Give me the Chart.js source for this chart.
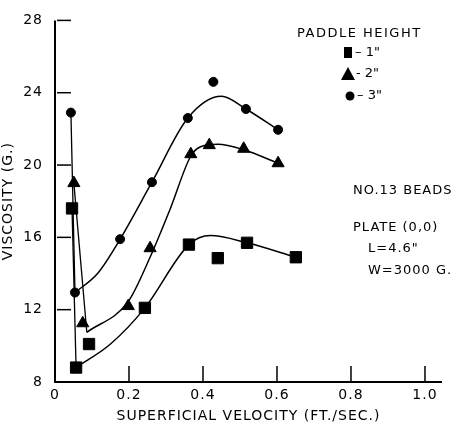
<!DOCTYPE html>
<html>
<head>
<meta charset="utf-8">
<script src="https://cdn.jsdelivr.net/npm/chart.js@4/dist/chart.umd.min.js"></script>
<style>
  html, body { margin: 0; padding: 0; background: #fff; }
  #wrap { width: 459px; height: 425px; }
</style>
</head>
<body>
<div id="wrap"><canvas id="grafico"></canvas></div>
<script>
// ---------- datos ----------
const xTicks = [0, 0.2, 0.4, 0.6, 0.8, 1.0];
const yTicks = [8, 12, 16, 20, 24, 28];

// 1" (cuadrados)
const sqX = [0.046, 0.057, 0.092, 0.243, 0.362, 0.44, 0.519, 0.651];
const sqY = [17.6, 8.8, 10.1, 12.1, 15.6, 14.85, 15.7, 14.9];
// 2" (triangulos)
const triX = [0.051, 0.075, 0.198, 0.257, 0.367, 0.417, 0.51, 0.603];
const triY = [19.0, 11.25, 12.2, 15.4, 20.6, 21.1, 20.9, 20.1];
// 3" (circulos)
const cirX = [0.043, 0.054, 0.176, 0.262, 0.359, 0.428, 0.516, 0.603];
const cirY = [22.9, 12.95, 15.9, 19.05, 22.6, 24.6, 23.1, 21.95];

// curvas ajustadas (trazadas a mano en el original)
const sqCurveX = [0.057, 0.15, 0.243, 0.362, 0.42, 0.519, 0.651];
const sqCurveY = [8.8, 10.1, 12.1, 15.6, 16.1, 15.7, 14.9];
const triCurveX = [0.086, 0.198, 0.257, 0.31, 0.367, 0.392, 0.44, 0.51, 0.603];
const triCurveY = [10.75, 12.45, 14.9, 17.5, 20.5, 21.0, 21.15, 20.85, 20.1];
const cirCurveX = [0.054, 0.115, 0.176, 0.262, 0.359, 0.45, 0.516, 0.603];
const cirCurveY = [12.95, 14.0, 15.9, 19.05, 22.6, 23.8, 23.1, 21.95];

// caida inicial: primer punto -> inicio de la curva
const dropSq = [[sqX[0], sqY[0]], [sqCurveX[0], sqCurveY[0]]];
const dropTri = [[triX[0], triY[0]], [triCurveX[0], triCurveY[0]]];
const dropCir = [[cirX[0], cirY[0]], [cirCurveX[0], cirCurveY[0]]];

const tinta = '#000';
const fuente = 'DejaVu Sans';

const pts = (xs, ys) => xs.map((x, i) => ({ x, y: ys[i] }));
const pares = arr => arr.map(p => ({ x: p[0], y: p[1] }));

function curva(data) {
  return { type: 'line', data, borderColor: tinta, borderWidth: 1.5, pointRadius: 0,
           cubicInterpolationMode: 'monotone', fill: false, order: 2 };
}
function recta(data) {
  return { type: 'line', data, borderColor: tinta, borderWidth: 1.3, pointRadius: 0,
           tension: 0, fill: false, order: 2 };
}
function marcas(data, estilo, r) {
  return { type: 'scatter', data, pointStyle: estilo, pointRadius: r, pointHoverRadius: r,
           backgroundColor: tinta, borderColor: tinta, borderWidth: 1, showLine: false, order: 1 };
}

// ---------- espaciado de letras (rotulado tipo plantilla) ----------
const espaciado = {
  id: 'espaciado',
  beforeDraw(chart) { chart.ctx.letterSpacing = '1px'; },
  afterDraw(chart) { chart.ctx.letterSpacing = '0px'; }
};

// ---------- anotaciones, marcas de eje y leyenda ----------
const anotaciones = {
  id: 'anotaciones',
  afterDraw(chart) {
    const ctx = chart.ctx;
    const xs = chart.scales.x, ys = chart.scales.y;
    const area = chart.chartArea;
    ctx.save();
    ctx.strokeStyle = tinta;
    ctx.fillStyle = tinta;

    // ejes
    ctx.lineWidth = 2;
    ctx.beginPath();
    ctx.moveTo(area.left, area.top);
    ctx.lineTo(area.left, area.bottom);
    ctx.lineTo(area.right, area.bottom);
    ctx.stroke();

    // marcas interiores
    ctx.lineWidth = 1.5;
    yTicks.slice(1).forEach(v => {
      const y = ys.getPixelForValue(v);
      ctx.beginPath();
      ctx.moveTo(area.left + 2, y);
      ctx.lineTo(area.left + 16, y);
      ctx.stroke();
    });
    xTicks.slice(1).forEach(v => {
      const x = xs.getPixelForValue(v);
      ctx.beginPath();
      ctx.moveTo(x, area.bottom);
      ctx.lineTo(x, area.bottom - 16);
      ctx.stroke();
    });

    // leyenda
    ctx.font = '13px "' + fuente + '"';
    ctx.textBaseline = 'middle';
    ctx.textAlign = 'left';
    ctx.letterSpacing = '1.5px';
    ctx.fillText('PADDLE HEIGHT', 297, 34);
    ctx.letterSpacing = '0px';
    ctx.fillRect(344, 47, 8, 11);
    ctx.fillText('\u2013 1"', 355, 53);
    ctx.beginPath();
    ctx.moveTo(348, 67); ctx.lineTo(355, 80); ctx.lineTo(341, 80); ctx.closePath(); ctx.fill();
    ctx.fillText('- 2"', 356, 74);
    ctx.beginPath(); ctx.arc(350, 96, 4.5, 0, Math.PI * 2); ctx.fill();
    ctx.fillText('\u2013 3"', 357, 96);

    // texto de condiciones
    ctx.letterSpacing = '1px';
    ctx.fillText('NO.13 BEADS', 353, 191);
    ctx.fillText('PLATE (0,0)', 353, 228);
    ctx.fillText('L=4.6"', 368, 249);
    ctx.fillText('W=3000 G.', 368, 271);
    ctx.restore();
  }
};

new Chart(document.getElementById('grafico'), {
  data: {
    datasets: [
      recta(pares(dropCir)), recta(pares(dropTri)), recta(pares(dropSq)),
      curva(pts(cirCurveX, cirCurveY)), curva(pts(triCurveX, triCurveY)), curva(pts(sqCurveX, sqCurveY)),
      marcas(pts(sqX, sqY), 'rect', 8),
      marcas(pts(triX, triY), 'triangle', 7),
      marcas(pts(cirX, cirY), 'circle', 4.5)
    ]
  },
  options: {
    responsive: true,
    maintainAspectRatio: false,
    animation: false,
    layout: { padding: { top: 15, right: 17, left: 0, bottom: 0 } },
    plugins: { legend: { display: false }, tooltip: { enabled: false } },
    scales: {
      x: {
        type: 'linear', min: 0, max: 1.046,
        afterBuildTicks: s => { s.ticks = xTicks.map(v => ({ value: v })); },
        afterFit: s => { s.height = 43; },
        border: { display: false },
        grid: { display: false, drawTicks: false },
        ticks: { color: tinta, padding: 5, maxRotation: 0,
                 font: { family: fuente, size: 14 },
                 callback: v => v === 0 ? '0' : v.toFixed(1) },
        title: { display: true, text: 'SUPERFICIAL VELOCITY (FT./SEC.)', color: tinta,
                 font: { family: fuente, size: 14 }, padding: { top: 2, bottom: 0 } }
      },
      y: {
        type: 'linear', min: 8, max: 28,
        afterBuildTicks: s => { s.ticks = yTicks.map(v => ({ value: v })); },
        afterFit: s => { s.width = 55; },
        border: { display: false },
        grid: { display: false, drawTicks: false },
        ticks: { color: tinta, padding: 12, font: { family: fuente, size: 14 } },
        title: { display: true, text: 'VISCOSITY (G.)', color: tinta,
                 font: { family: fuente, size: 14 }, padding: { top: 0, bottom: 2 } }
      }
    }
  },
  plugins: [espaciado, anotaciones]
});
</script>
</body>
</html>
